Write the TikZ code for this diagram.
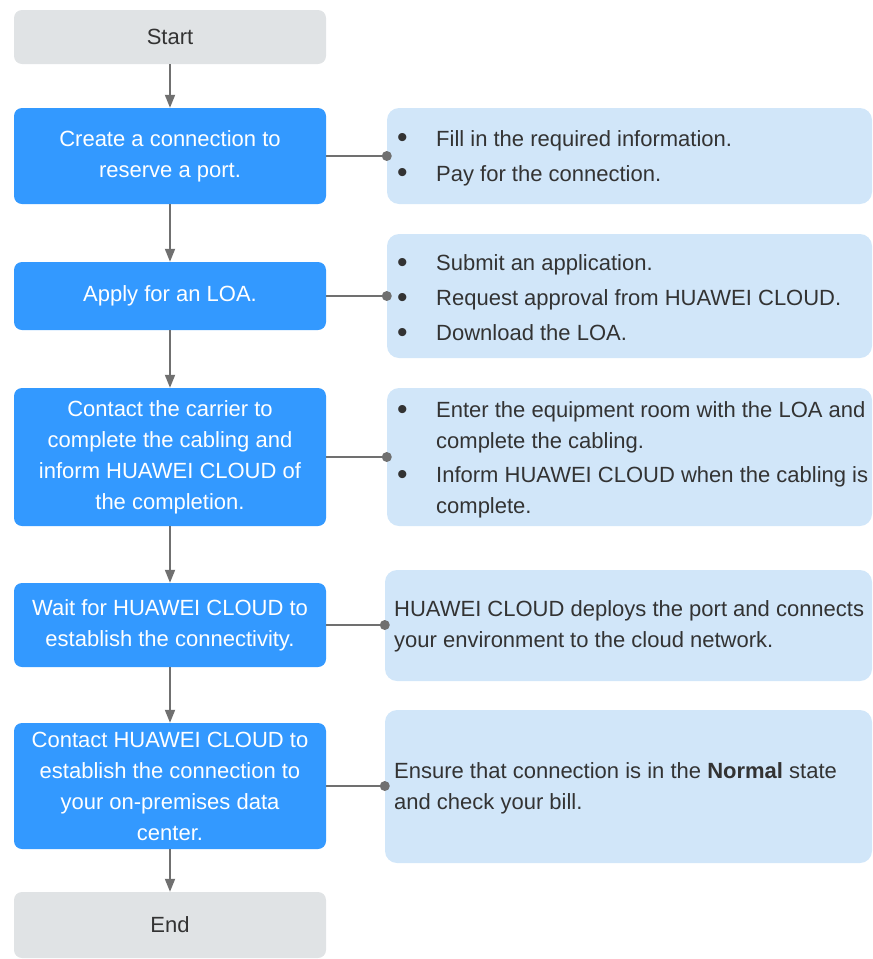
\documentclass[tikz,border=0pt]{standalone}
\usepackage{fontspec}
\setmainfont{Liberation Sans}
\usetikzlibrary{arrows.meta}
\definecolor{stepblue}{RGB}{51,153,255}
\definecolor{notebg}{RGB}{209,230,249}
\definecolor{termgray}{RGB}{224,227,229}
\definecolor{linegray}{RGB}{112,112,112}
\definecolor{txtdark}{RGB}{51,51,51}
\newcommand\bitem{\makebox[40pt][l]{\hspace*{1pt}\smash{\raisebox{-1.5pt}{\fontsize{30}{30}\selectfont •}}}}
\newcommand\bcont{\hspace*{40pt}}
\begin{document}
\begin{tikzpicture}[x=1pt,y=-1pt,
 base/.style={rectangle, rounded corners=8pt, minimum width=312pt, inner sep=0pt, align=center, font=\fontsize{22}{31}\selectfont},
 term/.style={base, fill=termgray, text=txtdark},
 stepbox/.style={base, fill=stepblue, text=white},
 note/.style={rectangle, rounded corners=12pt, fill=notebg, inner sep=0pt},
 notetext/.style={anchor=west, align=left, text=txtdark, inner sep=0pt, font=\fontsize{22}{31}\selectfont},
 conn/.style={draw=linegray, line width=1.8pt},
 flow/.style={conn, -{Triangle[length=13pt,width=10pt]}},
 dot/.style={circle, fill=linegray, inner sep=0pt, minimum size=10pt}]
\useasboundingbox (0,0) rectangle (873,959);
% left column
\node[term, minimum height=54pt] (start) at (170,37) {Start};
\node[stepbox, minimum height=96pt] (b1) at (170,156) {Create a connection to\\reserve a port.};
\node[stepbox, minimum height=68pt] (b2) at (170,296) {Apply for an LOA.};
\node[stepbox, minimum height=138pt] (b3) at (170,457) {Contact the carrier to\\complete the cabling and\\inform HUAWEI CLOUD of\\the completion.};
\node[stepbox, minimum height=84pt] (b4) at (170,625) {Wait for HUAWEI CLOUD to\\establish the connectivity.};
\node[stepbox, minimum height=126pt] (b5) at (170,786) {Contact HUAWEI CLOUD to\\establish the connection to\\your on-premises data\\center.};
\node[term, minimum height=66pt] (end) at (170,925) {End};
% right notes
\node[note, minimum width=485pt, minimum height=96pt] (r1) at (629.5,156) {};
\node[note, minimum width=485pt, minimum height=124pt] (r2) at (629.5,296) {};
\node[note, minimum width=485pt, minimum height=138pt] (r3) at (629.5,457) {};
\node[note, minimum width=487pt, minimum height=111pt] (r4) at (628.5,625.5) {};
\node[note, minimum width=487pt, minimum height=153pt] (r5) at (628.5,786.5) {};
\node[notetext] (t1) at (396,158) {\bitem Fill in the required information.\\[4pt]\bitem Pay for the connection.};
\node[notetext] (t2) at (396,298) {\bitem Submit an application.\\[4pt]\bitem Request approval from HUAWEI CLOUD.\\[4pt]\bitem Download the LOA.};
\node[notetext] (t3) at (396,460) {\bitem Enter the equipment room with the LOA and\\\bcont complete the cabling.\\[3pt]\bitem Inform HUAWEI CLOUD when the cabling is\\\bcont complete.};
\node[notetext] (t4) at (394,626) {HUAWEI CLOUD deploys the port and connects\\your environment to the cloud network.};
\node[notetext] (t5) at (394,788) {Ensure that connection is in the \textbf{Normal} state\\and check your bill.};
% flow arrows
\draw[flow] (start) -- (b1);
\draw[flow] (b1) -- (b2);
\draw[flow] (b2) -- (b3);
\draw[flow] (b3) -- (b4);
\draw[flow] (b4) -- (b5);
\draw[flow] (b5) -- (end);
% side connectors
\foreach \b/\r in {b1/r1,b2/r2,b3/r3,b4/r4,b5/r5}{
  \draw[conn] (\b.east) -- (\r.west |- \b.east) coordinate (d\b);
  \node[dot] at (d\b) {};
}
\end{tikzpicture}
\end{document}
